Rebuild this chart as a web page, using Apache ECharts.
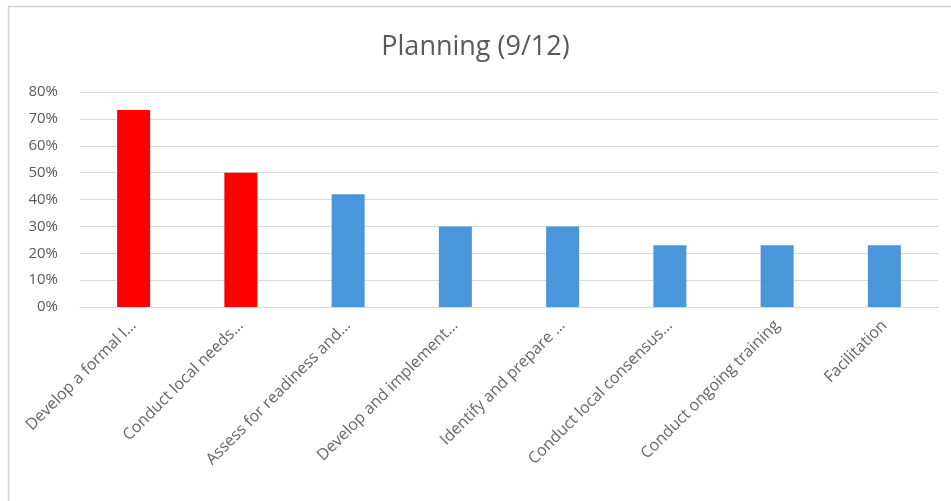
<!DOCTYPE html>
<html>
<head>
<meta charset="utf-8">
<script src="https://cdn.jsdelivr.net/npm/echarts@6/dist/echarts.min.js"></script>
<style>
  html, body { margin: 0; padding: 0; background: #fff; }
  #chart { width: 951px; height: 501px; }
</style>
</head>
<body>
<div id="chart"></div>
<script>
// Planning activities and the share of sites reporting each one
const categories = [
  'Develop a formal l…',
  'Conduct local needs…',
  'Assess for readiness and…',
  'Develop and implement…',
  'Identify and prepare …',
  'Conduct local consensus…',
  'Conduct ongoing training',
  'Facilitation'
];
const shares = [0.733, 0.50, 0.42, 0.30, 0.30, 0.23, 0.23, 0.23];
const yTicks = [0, 0.1, 0.2, 0.3, 0.4, 0.5, 0.6, 0.7, 0.8];

// the top two activities are emphasised in red
const topCount = 2;
const RED = '#ff0000';
const BLUE = '#4a96da';
const TEXT = '#595959';
const FONT = '"Open Sans", "Liberation Sans", sans-serif';

const chart = echarts.init(document.getElementById('chart'), null, { renderer: 'canvas' });

chart.setOption({
  animation: false,
  backgroundColor: '#ffffff',
  title: {
    text: 'Planning (9/12)',
    left: 'center',
    top: 29,
    textStyle: { color: TEXT, fontSize: 27, fontWeight: 'normal', fontFamily: FONT }
  },
  grid: { left: 80, right: 13, top: 92, bottom: 194, containLabel: false },
  xAxis: {
    type: 'category',
    data: categories,
    axisLine: { show: true, lineStyle: { color: '#d9d9d9', width: 1 } },
    axisTick: { show: false },
    axisLabel: {
      rotate: 45,
      interval: 0,
      margin: 16,
      color: '#666666',
      fontSize: 16,
      fontFamily: FONT
    }
  },
  yAxis: {
    type: 'value',
    min: yTicks[0],
    max: yTicks[yTicks.length - 1],
    interval: 0.1,
    axisLine: { show: false },
    axisTick: { show: false },
    splitLine: { lineStyle: { color: '#d9d9d9', width: 1 } },
    axisLabel: {
      margin: 22,
      color: TEXT,
      fontSize: 15,
      fontFamily: FONT,
      formatter: v => Math.round(v * 100) + '%'
    }
  },
  series: [{
    type: 'bar',
    data: shares,
    barWidth: 33,
    itemStyle: {
      color: p => (p.dataIndex < topCount ? RED : BLUE)
    }
  }],
  graphic: [{
    type: 'rect',
    shape: { x: 8.5, y: 6.5, width: 1200, height: 1200 },
    style: { fill: 'none', stroke: '#d4d4d4', lineWidth: 1.5 },
    silent: true,
    z: 100
  }]
});
</script>
</body>
</html>
